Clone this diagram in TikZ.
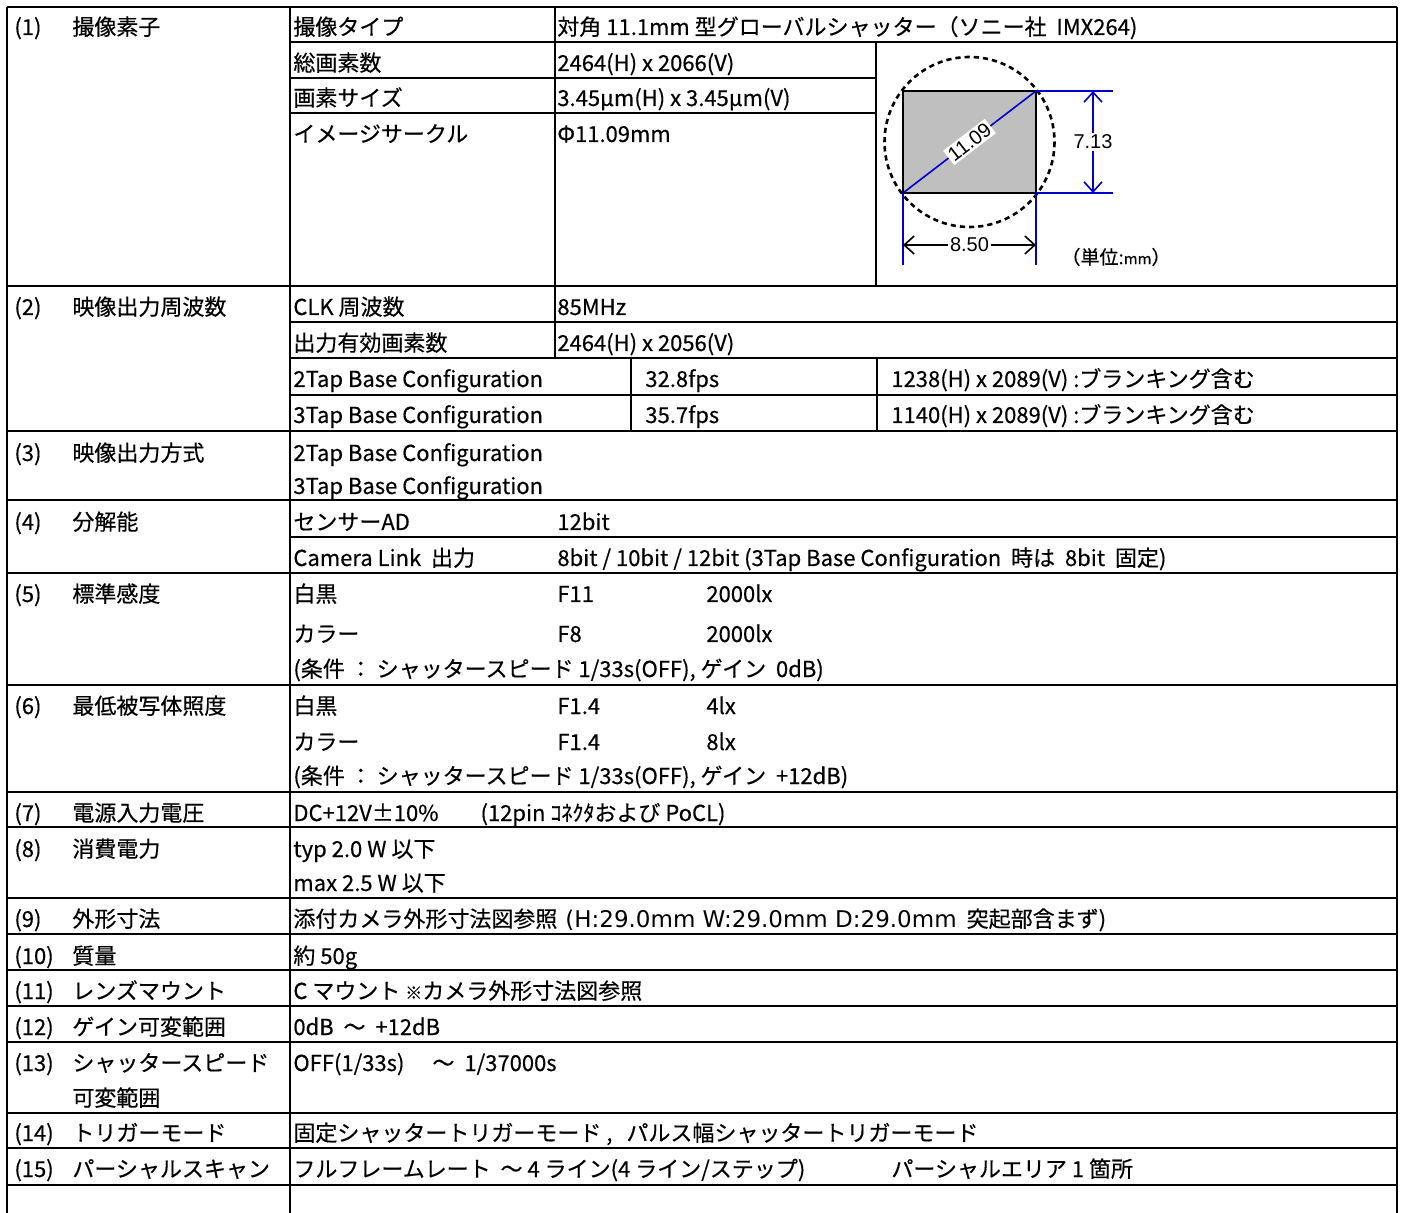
\documentclass[tikz,border=0pt]{standalone}
\usepackage{fontspec}
\setmainfont{Noto Sans CJK JP}[FakeBold=0.4]
\newfontfamily\dimfont{Liberation Sans}
\newfontfamily\widefont{DejaVu Sans}
\usepackage{tikz}
\usetikzlibrary{arrows.meta}

\definecolor{dimblue}{RGB}{0,0,204}
\newcommand\specfont{\fontsize{11}{13}\selectfont}
\newcommand\smallspec{\fontsize{8.5}{10}\selectfont}

\tikzset{
  cell/.style={anchor=base west, inner sep=0pt, font=\specfont},
  rule/.style={line width=1pt},
  dimline/.style={draw=dimblue, line width=0.8pt},
  dimtext/.style={fill=white, inner sep=1pt, font=\dimfont\fontsize{10}{12}\selectfont},
  barbs/.style={{Straight Barb[length=5pt,width=9pt]}-{Straight Barb[length=5pt,width=9pt]}}
}

\begin{document}
\begin{tikzpicture}[x=0.5pt, y=-0.5pt]
    \useasboundingbox (0,0) rectangle (1403,1213);

    % Draw the full-width rules
    \foreach \y in {7,286,431,500,573,685,792,827,898,934,970,1006,1042,1113,1148,1185}
        \draw[rule] (7,\y) -- (1397,\y);
    % Rules inside the right part only
    \foreach \y in {42,322,358,395,537}
        \draw[rule] (290,\y) -- (1397,\y);
    \foreach \y in {78,113}
        \draw[rule] (290,\y) -- (876,\y);

    % Draw the column rules
    \foreach \x in {7,290,1397}
        \draw[rule] (\x,7) -- (\x,1213);
    \draw[rule] (555,7) -- (555,358);
    \draw[rule] (876,42) -- (876,286);
    \draw[rule] (631,358) -- (631,431);
    \draw[rule] (877,358) -- (877,431);

    % Item numbers and names
    \foreach \n/\y/\t in {1/35/撮像素子, 2/315/映像出力周波数, 3/461/映像出力方式,
        4/530/分解能, 5/602/標準感度, 6/714/最低被写体照度, 7/821/電源入力電圧,
        8/857/消費電力, 9/927/外形寸法, 10/964/質量, 11/999/レンズマウント,
        12/1035/ゲイン可変範囲, 13/1071/シャッタースピード, 14/1141/トリガーモード,
        15/1177/パーシャルスキャン} {
        \node[cell] (num\n) at (14,\y) {(\n)};
        \node[cell] (item\n) at (72,\y) {\t};
    }
    \node[cell] (item13b) at (72,1106) {可変範囲};

    % Second column
    \foreach \y/\t [count=\i] in {35/撮像タイプ, 71/総画素数, 106/画素サイズ,
        142/イメージサークル, 315/CLK 周波数, 351/出力有効画素数,
        387/2Tap Base Configuration, 423/3Tap Base Configuration,
        461/2Tap Base Configuration, 494/3Tap Base Configuration,
        530/センサーAD, 566/Camera Link\ \ 出力, 602/白黒, 642/カラー,
        714/白黒, 750/カラー,
        857/typ 2.0 W 以下, 891/max 2.5 W 以下, 964/約 50g,
        1035/0dB\ \ ～\ \ +12dB}
        \node[cell] (spec\i) at (293,\y) {\t};
    \node[cell] (cond5) at (293,677) {(条件\ ：\ シャッタースピード\ 1/33s(OFF),\ ゲイン\ \ 0dB)};
    \node[cell] (cond6) at (293,784) {(条件\ ：\ シャッタースピード\ 1/33s(OFF),\ ゲイン\ \ +12dB)};
    \node[cell] (power7) at (293,821) {DC+12V±10\%\hspace{21pt}(12pin ｺﾈｸﾀおよび PoCL)};
    \node[cell] (size9) at (293,927) {添付カメラ外形寸法図参照\hspace{4pt}{\widefont\fontsize{11.5}{14}\selectfont (H:29.0mm W:29.0mm D:29.0mm}\hspace{5pt}突起部含まず)};
    \node[cell] (mount11) at (293,999) {C マウント {\smallspec ※}カメラ外形寸法図参照};
    \node[cell] (shut13) at (293,1071) {OFF(1/33s)\hspace{14pt}～\hspace{5pt}1/37000s};
    \node[cell] (trig14) at (293,1141) {固定シャッタートリガーモード\ ,\hspace{7pt}パルス幅シャッタートリガーモード};
    \node[cell] (part15) at (293,1177) {フルフレームレート\ \ ～\ 4 ライン(4 ライン/ステップ)};

    % Third column
    \foreach \y/\t [count=\i] in {35/{対角 11.1mm 型グローバルシャッター（ソニー社\ \ IMX264)},
        71/2464(H) x 2066(V), 106/3.45μm(H) x 3.45μm(V), 142/Φ11.09mm,
        315/85MHz, 351/2464(H) x 2056(V), 530/12bit,
        602/F11, 642/F8, 714/F1.4, 750/F1.4}
        \node[cell] (val\i) at (557,\y) {\t};
    \node[cell] (bits4) at (557,566) {8bit / 10bit / 12bit (3Tap Base Configuration\ \ 時は\ \ 8bit\ \ 固定)};

    % Frame rates, lux and notes
    \node[cell] (fps2) at (645,387) {32.8fps};
    \node[cell] (fps3) at (645,423) {35.7fps};
    \node[cell] (blank2) at (891,387) {1238(H) x 2089(V) :ブランキング含む};
    \node[cell] (blank3) at (891,423) {1140(H) x 2089(V) :ブランキング含む};
    \foreach \y/\t [count=\i] in {602/2000lx, 642/2000lx, 714/4lx, 750/8lx}
        \node[cell] (lux\i) at (706,\y) {\t};
    \node[cell] (area15) at (891,1177) {パーシャルエリア 1 箇所};

    % Draw the sensor sketch
    \coordinate (ul) at (903,91);
    \coordinate (ur) at (1036,91);
    \coordinate (ll) at (903,193);
    \coordinate (lr) at (1036,193);
    \filldraw[fill=gray!50, draw=black, line width=1pt] (ul) rectangle (lr);
    \draw[line width=1.3pt, dash pattern=on 2.6pt off 2pt] (969.5,142) circle[radius=85];
    \draw[dimline] (ll) -- node[dimtext, sloped] (diag) {11.09} (ur);

    % Extension and dimension lines
    \coordinate (hx1) at (1113,91);
    \coordinate (hx2) at (1113,193);
    \coordinate (vx1) at (903,265);
    \coordinate (vx2) at (1036,265);
    \draw[dimline] (ur) -- (hx1);
    \draw[dimline] (lr) -- (hx2);
    \draw[dimline] (ll) -- (vx1);
    \draw[dimline] (lr) -- (vx2);
    \draw[dimline, barbs] (1093,91) -- node[dimtext] (hgt) {7.13} (1093,193);
    \draw[barbs, line width=0.8pt] (903,245) -- node[dimtext] (wid) {8.50} (1036,245);
    \node[font=\fontsize{9.5}{11}\selectfont] (unit) at (1116,257) {（単位:{\fontsize{7.5}{9}\selectfont mm}）};
\end{tikzpicture}
\end{document}
